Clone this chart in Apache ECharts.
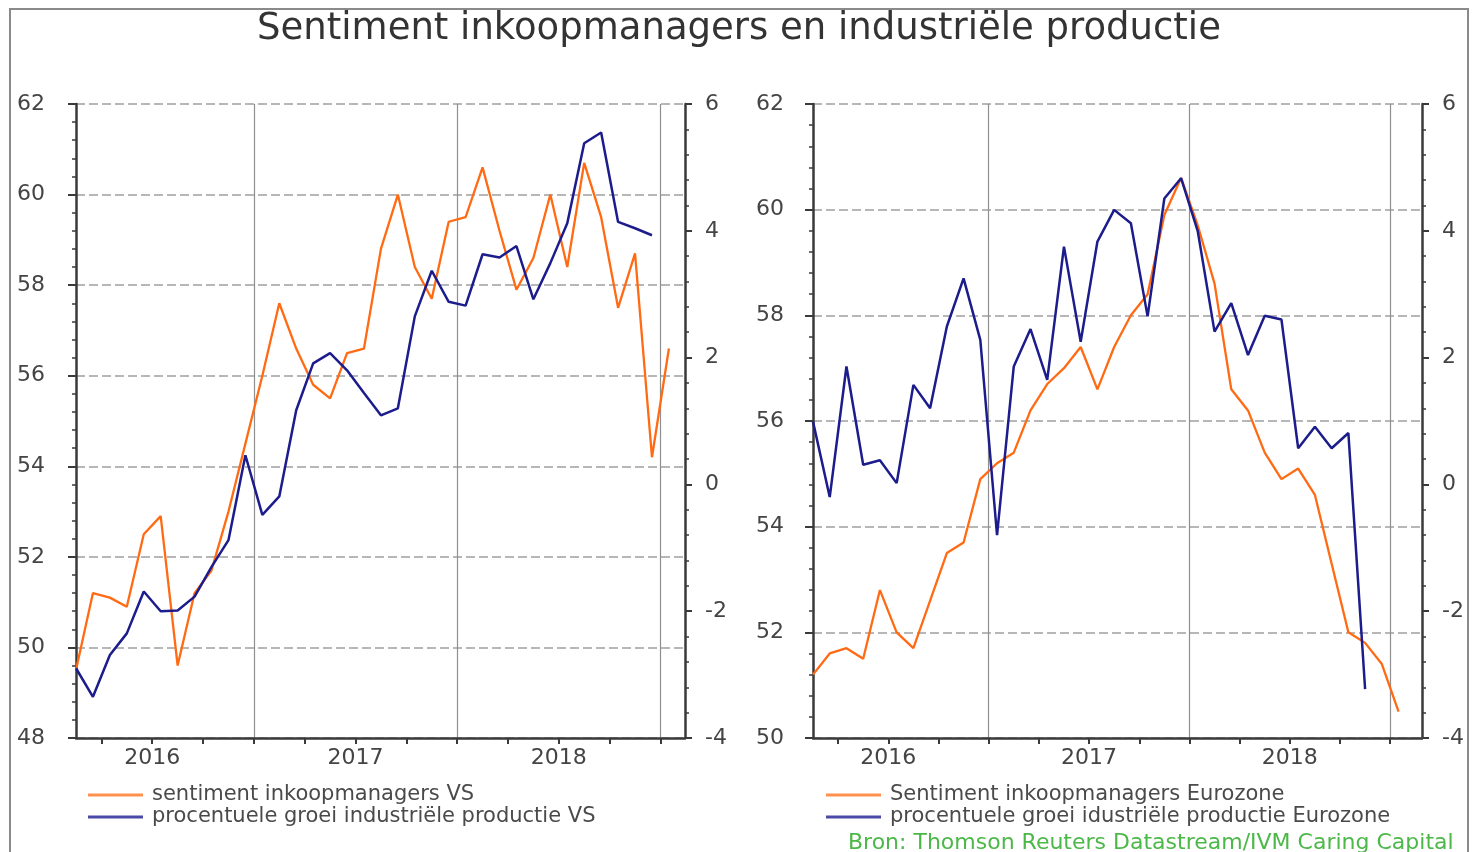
<!DOCTYPE html>
<html>
<head>
<meta charset="utf-8">
<script src="https://cdn.jsdelivr.net/npm/echarts@6/dist/echarts.min.js"></script>
<style>
html,body{margin:0;padding:0;background:#fff;}
#c{width:1478px;height:852px;}
</style>
</head>
<body>
<div id="c"></div>
<script>
// ---- data ----
const usMonths = ['2016-02','2016-03','2016-04','2016-05','2016-06','2016-07','2016-08','2016-09','2016-10','2016-11','2016-12',
  '2017-01','2017-02','2017-03','2017-04','2017-05','2017-06','2017-07','2017-08','2017-09','2017-10','2017-11','2017-12',
  '2018-01','2018-02','2018-03','2018-04','2018-05','2018-06','2018-07','2018-08','2018-09','2018-10','2018-11','2018-12','2019-01'];
const ezMonths = usMonths;

// sentiment inkoopmanagers VS (left axis)
const usPmi = [49.5, 51.2, 51.1, 50.9, 52.5, 52.9, 49.6, 51.2, 51.7, 53.0, 54.5, 56.0,
  57.6, 56.6, 55.8, 55.5, 56.5, 56.6, 58.8, 60.0, 58.4, 57.7, 59.4, 59.5,
  60.6, 59.2, 57.9, 58.6, 60.0, 58.4, 60.7, 59.5, 57.5, 58.7, 54.2, 56.6];
// procentuele groei industriele productie VS (right axis)
const usProd = [-2.9, -3.35, -2.69, -2.35, -1.69, -2.0, -1.99, -1.77, -1.3, -0.88, 0.46, -0.48,
  -0.19, 1.17, 1.91, 2.07, 1.8, 1.44, 1.09, 1.2, 2.65, 3.37, 2.88, 2.82,
  3.63, 3.58, 3.76, 2.92, 3.49, 4.12, 5.38, 5.55, 4.14, 4.04, 3.93];
// Sentiment inkoopmanagers Eurozone (left axis)
const ezPmi = [51.2, 51.6, 51.7, 51.5, 52.8, 52.0, 51.7, 52.6, 53.5, 53.7, 54.9, 55.2,
  55.4, 56.2, 56.7, 57.0, 57.4, 56.6, 57.4, 58.0, 58.4, 59.9, 60.6, 59.7,
  58.6, 56.6, 56.2, 55.4, 54.9, 55.1, 54.6, 53.3, 52.0, 51.8, 51.4, 50.5];
// procentuele groei industriele productie Eurozone (right axis)
const ezProd = [0.99, -0.2, 1.86, 0.31, 0.38, 0.02, 1.57, 1.2, 2.49, 3.25, 2.28, -0.8,
  1.86, 2.45, 1.65, 3.75, 2.25, 3.83, 4.33, 4.12, 2.65, 4.51, 4.83, 3.99,
  2.41, 2.86, 2.04, 2.66, 2.6, 0.57, 0.91, 0.57, 0.81, -3.23];

const years = ['2016', '2017', '2018'];
const baseYear = 2016;

const seriesNames = {
  usPmi: 'sentiment inkoopmanagers VS',
  usProd: 'procentuele groei industriële productie VS',
  ezPmi: 'Sentiment inkoopmanagers Eurozone',
  ezProd: 'procentuele groei idustriële productie Eurozone'
};

// ---- helpers ----
// month position: months since Jan 1 of baseYear, at mid-month
function monthPos(s) {
  const [y, m] = s.split('-').map(Number);
  return (y - baseYear) * 12 + (m - 1) + 0.5;
}
function pairs(months, vals) { return vals.map((v, i) => [monthPos(months[i]), v]); }

const quarterTicks = [];
for (let q = 3; q <= 36; q += 3) quarterTicks.push(q);
const yearLines = years.map((y, i) => (i + 1) * 12);
const yearLabelPos = years.map((y, i) => i * 12 + 6);

const FONT = 'DejaVu Sans';
const AX = '#3a3a3a';
const LBL = '#444';
const ORANGE = '#ff6a13';
const BLUE = '#1c1c8c';

function xAxes(grid, min, max) {
  return [{
    gridIndex: grid, type: 'value', min: min, max: max,
    axisLine: { show: true, onZero: false, lineStyle: { color: AX, width: 2.5 } },
    axisTick: { show: true, customValues: quarterTicks, length: 6, lineStyle: { color: AX, width: 2 } },
    axisLabel: { show: true, customValues: yearLabelPos, margin: 9, color: LBL, fontSize: 22, fontFamily: FONT,
      formatter: v => String(baseYear + Math.floor(v / 12)) },
    splitLine: { show: false }
  }, {
    gridIndex: grid, type: 'value', min: min, max: max,
    axisLine: { show: false }, axisLabel: { show: false },
    axisTick: { show: false, customValues: yearLines },
    splitLine: { show: true, lineStyle: { color: '#8f8f8f', width: 1.2 } }
  }];
}
function yAxes(grid, min, max, lMargin, rMargin) {
  return [{
    gridIndex: grid, type: 'value', position: 'left', min: min, max: max, interval: 2,
    axisLine: { show: true, lineStyle: { color: AX, width: 2.5 } },
    axisTick: { show: true, inside: false, length: 8, lineStyle: { color: AX, width: 2 } },
    minorTick: { show: true, splitNumber: 5, length: 4, lineStyle: { color: AX, width: 1.5 } },
    axisLabel: { margin: lMargin, color: LBL, fontSize: 22, fontFamily: FONT },
    splitLine: { show: true, lineStyle: { color: '#a0a0a0', width: 1.5, type: [9, 4] } }
  }, {
    gridIndex: grid, type: 'value', position: 'right', min: -4, max: 6, interval: 2,
    axisLine: { show: true, lineStyle: { color: AX, width: 2.5 } },
    axisTick: { show: true, inside: false, length: 7, lineStyle: { color: AX, width: 2 } },
    minorTick: { show: true, splitNumber: 5, length: 4, lineStyle: { color: AX, width: 1.5 } },
    axisLabel: { margin: rMargin, color: LBL, fontSize: 22, fontFamily: FONT },
    splitLine: { show: false }
  }];
}
function line(name, xi, yi, data, color, w) {
  return { name: name, type: 'line', xAxisIndex: xi, yAxisIndex: yi, data: data,
    showSymbol: false, symbol: 'none', animation: false,
    lineStyle: { color: color, width: w }, itemStyle: { color: color } };
}
function legend(left, names) {
  return {
    left: left, top: 784, padding: 0, orient: 'vertical', icon: 'rect', itemWidth: 55, itemHeight: 3, itemGap: 0,
    textStyle: { color: '#4a4a4a', fontSize: 21, fontFamily: FONT, lineHeight: 22, padding: [0, 0, 0, 4] },
    data: [
      { name: names[0], itemStyle: { color: '#ff9150' } },
      { name: names[1], itemStyle: { color: '#4a4aa6' } }
    ]
  };
}

const chart = echarts.init(document.getElementById('c'));
chart.setOption({
  backgroundColor: '#fff',
  animation: false,
  title: [{
    text: 'Sentiment inkoopmanagers en industriële productie', left: 'center', top: 6,
    textStyle: { color: '#333', fontSize: 37, fontWeight: 'normal', fontFamily: FONT }
  }, {
    text: 'Bron: Thomson Reuters Datastream/IVM Caring Capital', left: 848, top: 832, padding: 0,
    textStyle: { color: '#4cb848', fontSize: 22, fontWeight: 'normal', fontFamily: FONT }
  }],
  legend: [legend(88, [seriesNames.usPmi, seriesNames.usProd]), legend(826, [seriesNames.ezPmi, seriesNames.ezProd])],
  grid: [
    { left: 76, top: 104, width: 609, height: 634 },
    { left: 813, top: 104, width: 609, height: 634 }
  ],
  xAxis: [...xAxes(0, 1.5, 37.45), ...xAxes(1, 1.5, 37.9)],
  yAxis: [...yAxes(0, 48, 62, 31, 20), ...yAxes(1, 50, 62, 29, 20)],
  series: [
    line(seriesNames.usPmi, 0, 0, pairs(usMonths, usPmi), ORANGE, 2.3),
    line(seriesNames.usProd, 0, 1, pairs(usMonths, usProd), BLUE, 2.5),
    line(seriesNames.ezPmi, 2, 2, pairs(ezMonths, ezPmi), ORANGE, 2.3),
    line(seriesNames.ezProd, 2, 3, pairs(ezMonths, ezProd), BLUE, 2.5)
  ],
  graphic: [{
    type: 'rect', silent: true, z: -1,
    shape: { x: 10, y: 9, width: 1458, height: 860 },
    style: { fill: 'none', stroke: '#8a8a8a', lineWidth: 2 }
  }]
});
</script>
</body>
</html>
